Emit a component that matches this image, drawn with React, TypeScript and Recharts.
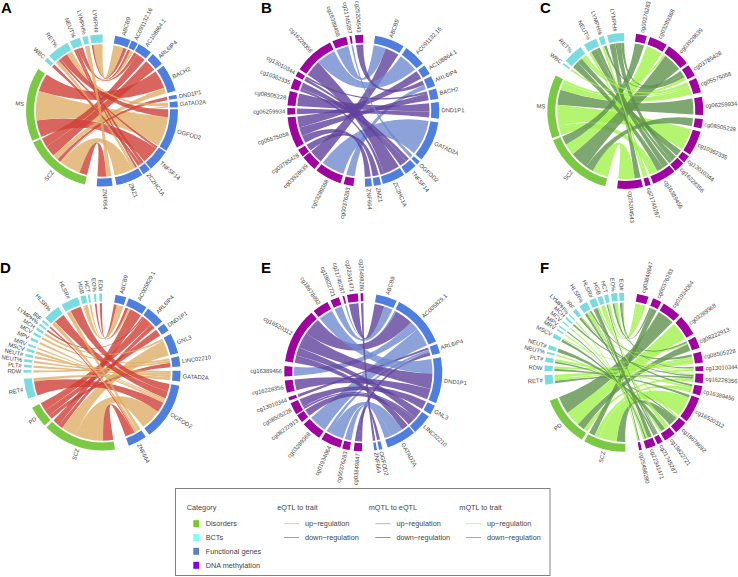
import React from "react";
import { PieChart, Pie } from "recharts";

type Link = [string, string, number, number];

const namesA = ["ABCB9","AC091132.16","AC108864.1","ARL6IP4","BACH2","DND1P1","GATAD2A","OGFOD2","TNFSF14","ZC2HC1A","ZMZ1","ZNF664","SCZ","MS","WBC","RET%","NEUT%","LYMPH%","LYMPH#"];
const spansA = [12,5,11,10,21,3,4.5,33,17,6,21,12,52,56.5,3,17,8,4,9.5];
const gapsA = [1,1,2,2,3,2,1.5,1,1,1,3,9,1.5,8,2,2,2,2];
const linksA: Link[] = [
  ["MS","BACH2",16,1],["MS","TNFSF14",15,1],["MS","OGFOD2",26,0],
  ["SCZ","ARL6IP4",10,1],["SCZ","BACH2",5,0],["SCZ","AC108864.1",8,1],["SCZ","DND1P1",3,1],["SCZ","GATAD2A",1.5,0],["SCZ","ZMZ1",18,0],["SCZ","ZNF664",7,1],
  ["RET%","OGFOD2",7,1],["RET%","AC091132.16",2,0],["RET%","ZMZ1",3,0],["RET%","TNFSF14",2,1],["RET%","GATAD2A",3,0],
  ["WBC","ZC2HC1A",3,1],
  ["NEUT%","ABCB9",3,1],["NEUT%","AC108864.1",3,1],["NEUT%","ZC2HC1A",3,1],["NEUT%","ZMZ1",2,1],
  ["LYMPH%","ZNF664",4,0],
  ["LYMPH#","ABCB9",8,0],["LYMPH#","AC091132.16",1.5,1],
];

const namesB = ["ABCB9","AC091132.16","AC108864.1","ARL6IP4","BACH2","DND1P1","GATAD2A","OGFOD2","TNFSF14","ZC2HC1A","ZMZ1","ZNF664","cg00376283","cg03289368","cg03928639","cg03785428","cg05575058","cg06259934","cg08505228","cg10362335","cg13010344","cg16228356","cg16389456","cg21745287","cg25204543"];
const spansB = [23,17,7.5,8,8,12.5,31,3,9.5,17.5,5.5,5.2,7.5,20.5,12,6,24,5,11,8,4,31,11,1.5,6.3];
const gapsB = [2.5,2,2,2,2.5,3,2,1.5,1.5,1.5,1.5,8.8,2.5,2,1,2,2,2,2,2,2,2,2.5,2.7];
const linksB: Link[] = [
  ["ABCB9","cg16389456",11,0],["ABCB9","cg03928639",12,1],
  ["AC091132.16","cg16228356",17,0],
  ["AC108864.1","cg05575058",7.5,1],
  ["ARL6IP4","cg00376283",6,0],["ARL6IP4","cg25204543",6,1],
  ["BACH2","cg13010344",2,1],["BACH2","cg05575058",6,1],
  ["DND1P1","cg08505228",7,1],["DND1P1","cg06259934",5,1],
  ["GATAD2A","cg03289368",31,0],
  ["OGFOD2","cg21745287",1.5,0],
  ["TNFSF14","cg10362335",6,1],["TNFSF14","cg13010344",3,1],
  ["ZC2HC1A","cg16228356",14,1],["ZC2HC1A","cg10362335",3,1],
  ["ZMZ1","cg03785428",5.5,1],
  ["ZNF664","cg05575058",5,1],
];

const namesC = ["cg00376283","cg03289368","cg03928639","cg03785428","cg05575058","cg06259934","cg08505228","cg10362335","cg13010344","cg16228356","cg16389456","cg21745287","cg25204543","SCZ","MS","WBC","RET%","NEUT%","LYMPH%","LYMPH#"];
const spansC = [8,13.5,18,9,11,13.5,7,18.5,5.5,8,18,4,19,53,47.5,1.5,15,10,4,12.5];
const gapsC = [2.5,2,2,2,3.5,3,2.5,1.5,1,1,2,2,9,1.5,9.5,2,3,2,2.5];
const linksC: Link[] = [
  ["MS","cg06259934",13,1],["MS","cg10362335",18,0],["MS","cg16389456",8,0],["MS","cg05575058",7,0],["MS","cg03785428",2,0],
  ["SCZ","cg00376283",8,1],["SCZ","cg03928639",16,1],["SCZ","cg08505228",7,1],["SCZ","cg25204543",14,0],["SCZ","cg03289368",10,0],
  ["LYMPH#","cg25204543",5,1],["LYMPH#","cg16228356",5,1],["LYMPH#","cg03785428",2.5,1],
  ["NEUT%","cg16389456",6,1],["NEUT%","cg16228356",3,1],["NEUT%","cg21745287",2,0],
  ["RET%","cg16389456",6,1],["RET%","cg13010344",5,1],["RET%","cg03928639",2,0],["RET%","cg05575058",3,0],
  ["LYMPH%","cg21745287",2,0],["LYMPH%","cg03785428",2,1],
  ["WBC","cg05575058",1.5,0],
];

const namesD = ["ABCB9","AC005829.1","ARL6IP4","DND1P1","GNL3","LINC02210","GATAD2A","OGFOD2","ZNF664","SCZ","PD","RET#","RDW","PLT#","NEUT%","NEUT#","MSCV","MRV","MPV","MCV","MCH","LYMPH%","IRF","HLSR%","HLSR#","HGB","HCT","EO%","EO#"];
const spansD = [8,14.5,14,6,15,7.5,8,43,14,54.5,16,15,2,2,2,2,2,1.5,2,2,2,1.5,1.5,12.5,13,4,1.5,1.5,2];
const gapsD = [2,1.5,2,3,2.5,3,3,3,10.5,2,7,4.5,2,2,2,2,2,3,2.5,2,2,2,2,3,2,1.5,3,2.5];
const linksD: Link[] = [
  ["EO#","ABCB9",2,1],["HCT","ABCB9",1.5,0],["HGB","ABCB9",3,0],
  ["SCZ","AC005829.1",6,1],["EO%","AC005829.1",1.5,1],["HGB","AC005829.1",1,0],
  ["SCZ","ARL6IP4",4,1],["LYMPH%","ARL6IP4",1.5,1],["PD","ARL6IP4",8,1],
  ["PD","DND1P1",6,1],
  ["SCZ","GNL3",13,0],["MCH","GNL3",2,0],
  ["PD","LINC02210",4,1],["MCV","LINC02210",2,0],["RDW","LINC02210",2,0],
  ["RET#","GATAD2A",3,0],["PLT#","GATAD2A",2,0],["NEUT%","GATAD2A",2,0],["NEUT#","GATAD2A",2,0],
  ["SCZ","OGFOD2",25,0],["RET#","OGFOD2",12,1],["HLSR%","OGFOD2",9,1],["HLSR#","OGFOD2",9,1],["MSCV","OGFOD2",2,0],["MRV","OGFOD2",1.5,0],["MPV","OGFOD2",2,0],
  ["SCZ","ZNF664",9,1],["HLSR%","ZNF664",3.5,0],["HLSR#","ZNF664",3.5,0],["IRF","ZNF664",1.5,1],
];

const namesE = ["ABCB9","AC005829.1","ARL6IP4","DND1P1","GNL3","LINC02210","GATAD2A","OGFOD2","ZNF664","cg03849847","cg00376283","cg01934064","cg03289368","cg08222913","cg08505228","cg13010344","cg16228356","cg16389456","cg16520312","cg18678692","cg19822721","cg21745287","cg22341471","cg25498280"];
const spansE = [15.5,40,7,34,7,15,22,2.5,2,6,5.5,15,15,6,9,2.5,9,7.5,41,12,6.5,1.3,8,2];
const gapsE = [2,2,3,2,2,1,4,1.5,9,3,1.5,2,2,1,2,3.5,3,3.5,2,2.5,2.7,2,2];
const linksE: Link[] = [
  ["cg22341471","ABCB9",8,1],["cg19822721","ABCB9",7,0],
  ["cg16520312","AC005829.1",15,1],["cg16389456","AC005829.1",7.5,0],["cg03289368","AC005829.1",15,0],["cg21745287","AC005829.1",1.3,0],
  ["cg13010344","ARL6IP4",2.5,1],["cg01934064","ARL6IP4",3,0],["cg03849847","ARL6IP4",4,1],
  ["cg18678692","DND1P1",12,0],["cg16520312","DND1P1",13,1],["cg16228356","DND1P1",9,1],
  ["cg08505228","GNL3",7,1],
  ["cg08222913","LINC02210",6,1],["cg08505228","LINC02210",2,1],["cg16520312","LINC02210",7,1],
  ["cg01934064","GATAD2A",12,0],["cg00376283","GATAD2A",5.5,0],["cg16520312","GATAD2A",6,1],
  ["cg03849847","OGFOD2",2,1],
  ["cg25498280","ZNF664",2,1],
];

const namesF = ["cg03849847","cg00376283","cg01934064","cg03289368","cg08222913","cg08505228","cg13010344","cg16228356","cg16389456","cg16520312","cg18678692","cg19822721","cg21745287","cg22341471","cg25498280","SCZ","PD","RET#","RDW","PLT#","NEUT%","NEUT#","MSCV","MRV","MPV","MCV","MCH","LYMPH%","IRF","HLSR%","HLSR#","HGB","HCT","EO%","EO#"];
const spansF = [8.5,6.5,14,15,8.5,8,3.5,7,7,19,9.5,8.5,4,7.5,2,31,37,7,4,3.5,1.5,3,3,1,1,1,1.5,1,3,6,5,3.5,3,4.5,3.5];
const gapsF = [3.5,2,2,2.5,3,2.5,2,2,2,1.5,1.5,2,1.5,3,10,2,12,3,2.5,2.5,2,6,3,2,3,2.5,2,3,3,2,1.5,1.5,2,1.5];
const linksF: Link[] = [
  ["PD","cg01934064",14,1],["PD","cg03289368",12,0],["PD","cg08222913",6,1],["PD","cg16228356",3,0],
  ["SCZ","cg00376283",5,1],["SCZ","cg16520312",15,0],["SCZ","cg18678692",7,1],["SCZ","cg16389456",4,0],
  ["RET#","cg08505228",3,0],["RET#","cg16228356",2,1],["RET#","cg13010344",2,0],
  ["RDW","cg16520312",2,1],["RDW","cg08505228",2,0],
  ["PLT#","cg16389456",2,0],["PLT#","cg18678692",1.5,1],
  ["NEUT%","cg19822721",1.5,0],["NEUT#","cg19822721",3,1],
  ["MSCV","cg21745287",2,1],["MSCV","cg13010344",1,0],
  ["MRV","cg22341471",1,0],["MPV","cg22341471",1,1],["MCV","cg22341471",1,0],
  ["MCH","cg16228356",1.5,1],["LYMPH%","cg25498280",1,0],
  ["IRF","cg16389456",2,1],["IRF","cg08222913",1,0],
  ["HLSR%","cg19822721",3,0],["HLSR%","cg21745287",2,1],["HLSR%","cg08505228",1.5,1],
  ["HLSR#","cg22341471",2.5,1],["HLSR#","cg25498280",1,1],["HLSR#","cg16228356",1.5,0],
  ["HGB","cg03849847",2,0],["HGB","cg18678692",1.5,0],
  ["HCT","cg03849847",2,0],["HCT","cg21745287",1,1],
  ["EO%","cg03849847",3,0],["EO%","cg08222913",1.5,1],
  ["EO#","cg03849847",1.5,0],["EO#","cg00376283",1.5,1],["EO#","cg13010344",1,1],
];

const disorders = ["MS","SCZ","PD"];
const bcts = ["WBC","RET%","RET#","NEUT%","NEUT#","LYMPH%","LYMPH#","RDW","PLT#","MSCV","MRV","MPV","MCV","MCH","IRF","HLSR%","HLSR#","HGB","HCT","EO%","EO#"];

const RING = { dis: "#7AC943", bct: "#78DCE0", gene: "#4F7FDE", dna: "#A000A0" };
const PAL = {
  tan: "#DEAE66", red: "#CF3E37", blue: "#6F8BCE", violet: "#60429C", lime: "#A0F24B", sage: "#5F924C",
};

function ringColor(n: string) {
  if (disorders.includes(n)) return RING.dis;
  if (bcts.includes(n)) return RING.bct;
  if (n.startsWith("cg")) return RING.dna;
  return RING.gene;
}

const panels = [
  { key: "A", lx: 1, ly: 12.5, cx: 102, cy: 110.5, R: 76, start: 10, names: namesA, spans: spansA, gaps: gapsA, links: linksA, up: PAL.tan, down: PAL.red },
  { key: "B", lx: 261, ly: 12.5, cx: 363.3, cy: 110.7, R: 76, start: 9, names: namesB, spans: spansB, gaps: gapsB, links: linksB, up: PAL.blue, down: PAL.violet },
  { key: "C", lx: 540, ly: 12.5, cx: 625.3, cy: 111, R: 78, start: 8, names: namesC, spans: spansC, gaps: gapsC, links: linksC, up: PAL.lime, down: PAL.sage },
  { key: "D", lx: 0, ly: 273, cx: 102, cy: 372, R: 78.5, start: 10, names: namesD, spans: spansD, gaps: gapsD, links: linksD, up: PAL.tan, down: PAL.red },
  { key: "E", lx: 261, ly: 273, cx: 363.3, cy: 372.3, R: 79, start: 9.5, names: namesE, spans: spansE, gaps: gapsE, links: linksE, up: PAL.blue, down: PAL.violet },
  { key: "F", lx: 540, ly: 273, cx: 624, cy: 372.3, R: 79.5, start: 9.5, names: namesF, spans: spansF, gaps: gapsF, links: linksF, up: PAL.lime, down: PAL.sage },
];

type Panel = (typeof panels)[number];
const BAND = 8;
const FONT = "'Liberation Sans', Arial, sans-serif";

function pieData(p: Panel) {
  const out: { name: string; value: number; fill: string }[] = [];
  let used = 0;
  p.names.forEach((n, i) => {
    out.push({ name: n, value: p.spans[i], fill: ringColor(n) });
    used += p.spans[i];
    const g = i < p.gaps.length ? p.gaps[i] : 360 - used;
    out.push({ name: "", value: g, fill: "none" });
    used += g;
  });
  return out;
}

function pt(cx: number, cy: number, r: number, deg: number) {
  const a = (deg * Math.PI) / 180;
  return [cx + r * Math.sin(a), cy - r * Math.cos(a)];
}

function ribbons(p: Panel) {
  const begins: Record<string, number> = {};
  const sp: Record<string, number> = {};
  let t = p.start;
  p.names.forEach((n, i) => {
    begins[n] = t;
    sp[n] = p.spans[i];
    t += p.spans[i] + (p.gaps[i] ?? 0);
  });
  const mid = (n: string) => begins[n] + sp[n] / 2;
  const ends: Record<string, { li: number; other: string; v: number }[]> = {};
  p.links.forEach((l, li) => {
    (ends[l[0]] = ends[l[0]] || []).push({ li, other: l[1], v: l[2] });
    (ends[l[1]] = ends[l[1]] || []).push({ li, other: l[0], v: l[2] });
  });
  const arcs: Record<string, [number, number]>[] = p.links.map(() => ({}));
  Object.keys(ends).forEach((n) => {
    const list = ends[n];
    const off = (o: string) => ((mid(o) - mid(n)) % 360 + 360) % 360;
    list.sort((a, b) => off(b.other) - off(a.other));
    const sum = list.reduce((s, e) => s + e.v, 0);
    let c = begins[n];
    list.forEach((e) => {
      const w = (sp[n] * e.v) / sum;
      arcs[e.li][n] = [c, c + w];
      c += w;
    });
  });
  const r = p.R - BAND - 1.8;
  return p.links.map((l, i) => {
    const [a0, a1] = arcs[i][l[0]];
    const [b0, b1] = arcs[i][l[1]];
    const P = (d: number) => pt(p.cx, p.cy, r, d).map((v) => v.toFixed(2)).join(" ");
    const c = `${p.cx} ${p.cy}`;
    const flag = (x: number, y: number) => (y - x > 180 ? 1 : 0);
    const d = `M${P(a0)}A${r} ${r} 0 ${flag(a0, a1)} 1 ${P(a1)}Q${c} ${P(b0)}A${r} ${r} 0 ${flag(b0, b1)} 1 ${P(b1)}Q${c} ${P(a0)}Z`;
    return <path key={i} d={d} fill={l[3] ? p.down : p.up} fillOpacity={0.8} stroke="none" />;
  });
}

function makeLabel(p: Panel) {
  return (props: any) => {
    if (!props.name) return null;
    const th = 90 - props.midAngle;
    const norm = ((th % 360) + 360) % 360;
    const [x, y] = pt(p.cx, p.cy, p.R + 2.2, norm);
    const right = norm < 180;
    const rot = right ? norm - 90 : norm + 90;
    return (
      <text
        x={x}
        y={y}
        fontSize={5.8}
        fontFamily={FONT}
        fill="#444"
        textAnchor={right ? "start" : "end"}
        dominantBaseline="central"
        transform={`rotate(${rot} ${x} ${y})`}
      >
        {props.name}
      </text>
    );
  };
}

const legendCategories = ["Disorders", "BCTs", "Functional genes", "DNA methylation"];
const legendCategoryColors = ["#76CC1E", "#80FFFF", "#5B80C0", "#8000F0"];
const legendGroups = ["eQTL to trait", "mQTL to eQTL", "mQTL to trait"];
const legendRows = ["up\u2212regulation", "down\u2212regulation"];
const legendLineColors = [
  ["#E5BE85", "#D9655F"],
  ["#8CA2D8", "#8068B0"],
  ["#B3F56F", "#7FA870"],
];

function Legend() {
  const ts = { fontSize: 7.3, fontFamily: FONT, fill: "#444" } as const;
  const rowY = [523.7, 537.5, 551.3, 565.3];
  const groupX = [277.3, 368.7, 459.3];
  return (
    <g>
      <rect x={175.5} y={488.5} width={374.5} height={87} fill="none" stroke="#808080" strokeWidth={1} />
      <text x={186.7} y={509.5} {...ts}>Category</text>
      {legendCategories.map((c, i) => (
        <g key={c}>
          <rect x={193.3} y={rowY[i] - 3.5} width={5.8} height={7} fill={legendCategoryColors[i]} />
          <text x={205.7} y={rowY[i] + 2.5} {...ts}>{c}</text>
        </g>
      ))}
      {legendGroups.map((g, i) => (
        <g key={g}>
          <text x={groupX[i]} y={509.5} {...ts}>{g}</text>
          {legendRows.map((r, j) => (
            <g key={r}>
              <line x1={groupX[i] + 6.7} x2={groupX[i] + 21.7} y1={rowY[j]} y2={rowY[j]} stroke={legendLineColors[i][j]} strokeWidth={0.8} />
              <text x={groupX[i] + 27.7} y={rowY[j] + 2.5} {...ts}>{r}</text>
            </g>
          ))}
        </g>
      ))}
    </g>
  );
}

export default function App() {
  return (
    <div style={{ position: "absolute", left: 0, top: 0, width: 738, height: 577, background: "#fff" }}>
      <PieChart width={738} height={577} margin={{ top: 0, right: 0, bottom: 0, left: 0 }}>
        {panels.map((p) => (
          <g key={`r${p.key}`}>{ribbons(p)}</g>
        ))}
        {panels.map((p) => (
          <Pie
            key={p.key}
            data={pieData(p)}
            dataKey="value"
            nameKey="name"
            cx={p.cx}
            cy={p.cy}
            outerRadius={p.R}
            innerRadius={p.R - BAND}
            startAngle={90 - p.start}
            endAngle={90 - p.start - 360}
            paddingAngle={0}
            stroke="none"
            isAnimationActive={false}
            labelLine={false}
            label={makeLabel(p)}
          />
        ))}
        {panels.map((p) => (
          <text key={`t${p.key}`} x={p.lx} y={p.ly} fontSize={15} fontWeight="bold" fontFamily={FONT} fill="#000">
            {p.key}
          </text>
        ))}
        <Legend />
      </PieChart>
    </div>
  );
}
